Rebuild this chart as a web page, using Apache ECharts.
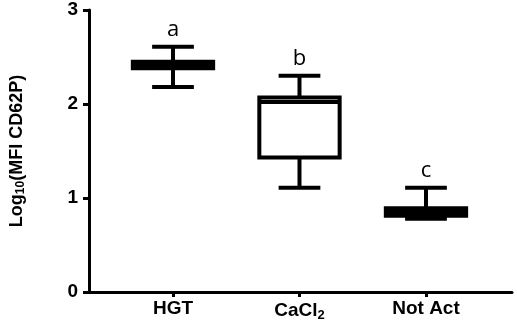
<!DOCTYPE html>
<html>
<head>
<meta charset="utf-8">
<script src="https://cdn.jsdelivr.net/npm/echarts@6/dist/echarts.min.js"></script>
<style>html,body{margin:0;padding:0;background:#fff;}#c{width:517px;height:329px;}</style>
</head>
<body>
<div id="c"></div>
<script>
const categories = ['HGT', 'CaCl2', 'Not Act'];
const whiskerLow = [2.18, 1.11, 0.78];
const q1 = [2.38, 1.43, 0.81];
const median = [2.415, 2.02, 0.85];
const q3 = [2.45, 2.07, 0.89];
const whiskerHigh = [2.61, 2.30, 1.11];
const letters = ['a', 'b', 'c'];
const yTicks = [0, 1, 2, 3];

const data = categories.map((c, i) => [i, whiskerLow[i], q1[i], median[i], q3[i], whiskerHigh[i]]);

const chart = echarts.init(document.getElementById('c'), null, {renderer: 'canvas'});
const lw = 4;
chart.setOption({
  animation: false,
  grid: {left: 89, right: 5, top: 10, bottom: 37},
  xAxis: {
    type: 'value', min: -0.664, max: 2.68,
    splitLine: {show: false},
    axisLine: {show: true, onZero: false, lineStyle: {color: '#000', width: 3}},
    axisTick: {show: true, length: 5, lineStyle: {color: '#000', width: 3}, customValues: [0, 1, 2]},
    axisLabel: {
      customValues: [0, 1, 2], margin: 7,
      fontFamily: 'Liberation Sans', fontWeight: 'bold', fontSize: 19, color: '#000',
      formatter: v => {
        const n = categories[Math.round(v)];
        return n === 'CaCl2' ? '{n|CaCl}{s|2}' : '{n|' + n + '}';
      },
      rich: {
        n: {fontFamily: 'Liberation Sans', fontWeight: 'bold', fontSize: 19, color: '#000'},
        s: {fontFamily: 'Liberation Sans', fontWeight: 'bold', fontSize: 13, color: '#000', verticalAlign: 'bottom', padding: [10, 0, 0, 0]}
      }
    }
  },
  yAxis: {
    type: 'value', min: 0, max: 3, interval: 1,
    splitLine: {show: false},
    axisLine: {show: true, onZero: false, lineStyle: {color: '#000', width: 3}},
    axisTick: {show: true, length: 6, lineStyle: {color: '#000', width: 3}},
    axisLabel: {margin: 11, fontFamily: 'Liberation Sans', fontWeight: 'bold', fontSize: 19, color: '#000',
      formatter: v => String(yTicks[Math.round(v)])},
    name: '{n|Log}{s|10}{n|(MFI CD62P)}',
    nameLocation: 'middle', nameGap: 62, nameRotate: 90,
    nameTextStyle: {
      rich: {
        n: {fontFamily: 'Liberation Sans', fontWeight: 'bold', fontSize: 18, color: '#000'},
        s: {fontFamily: 'Liberation Sans', fontWeight: 'bold', fontSize: 12, color: '#000', verticalAlign: 'bottom', padding: [8, 0, 0, 0]}
      }
    }
  },
  series: [{
    type: 'custom',
    data: data,
    encode: {x: 0, y: [1, 2, 3, 4, 5]},
    renderItem: (params, api) => {
      const x = api.value(0);
      const band = api.size([1, 0])[0];
      const bw = band * 0.635;
      const cw = band * 0.33;
      const pLow = api.coord([x, api.value(1)]);
      const pQ1 = api.coord([x, api.value(2)]);
      const pMed = api.coord([x, api.value(3)]);
      const pQ3 = api.coord([x, api.value(4)]);
      const pHigh = api.coord([x, api.value(5)]);
      const cx = pLow[0];
      const st = {stroke: '#000', lineWidth: lw, fill: null};
      return {
        type: 'group',
        children: [
          {type: 'line', shape: {x1: cx, y1: pHigh[1], x2: cx, y2: pQ3[1]}, style: st},
          {type: 'line', shape: {x1: cx, y1: pQ1[1], x2: cx, y2: pLow[1]}, style: st},
          {type: 'line', shape: {x1: cx - cw / 2, y1: pHigh[1], x2: cx + cw / 2, y2: pHigh[1]}, style: st},
          {type: 'line', shape: {x1: cx - cw / 2, y1: pLow[1], x2: cx + cw / 2, y2: pLow[1]}, style: st},
          {type: 'rect', shape: {x: cx - bw / 2, y: pQ3[1], width: bw, height: pQ1[1] - pQ3[1]}, style: {stroke: '#000', lineWidth: lw, fill: '#fff'}},
          {type: 'line', shape: {x1: cx - bw / 2, y1: pMed[1], x2: cx + bw / 2, y2: pMed[1]}, style: st},
          {type: 'text', style: {text: letters[params.dataIndex], x: cx, y: pHigh[1] - 6, align: 'center', verticalAlign: 'bottom', fontFamily: 'Open Sans', fontSize: 22, fill: '#000'}}
        ]
      };
    }
  }]
});
</script>
</body>
</html>
